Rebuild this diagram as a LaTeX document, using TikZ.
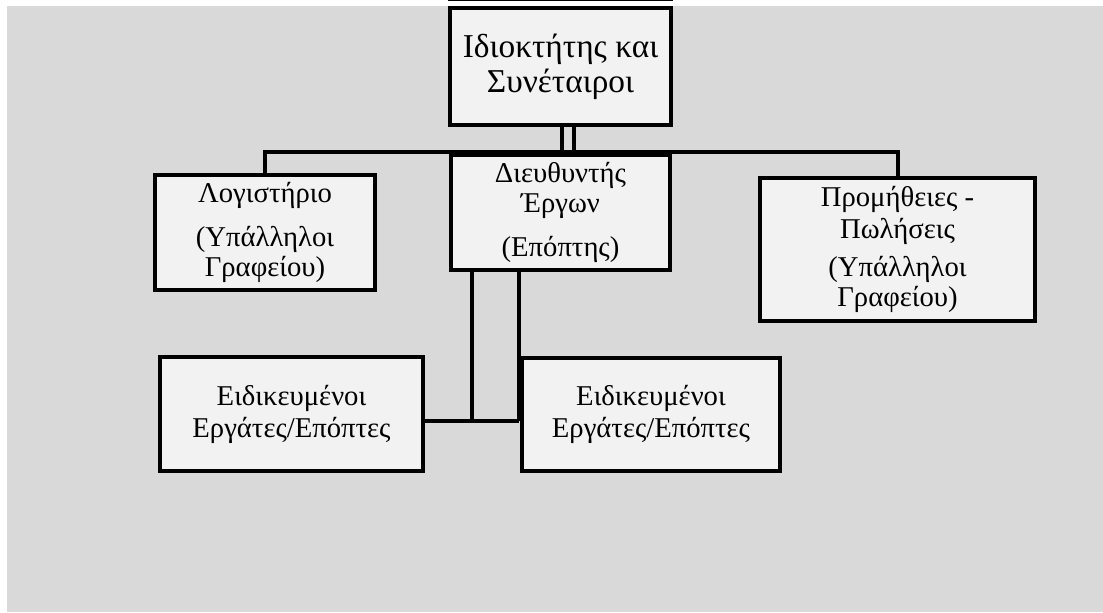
\documentclass[tikz,border=0pt]{standalone}
\usepackage{fontspec}
\setmainfont{Liberation Serif}
\usetikzlibrary{positioning}

\definecolor{bggray}{HTML}{D9D9D9}
\definecolor{boxgray}{HTML}{F2F2F2}

\begin{document}
\begin{tikzpicture}[x={(0.75pt,0pt)}, y={(0pt,-0.75pt)}, % pixel grid, y downwards
		orgbox/.style={draw=black, fill=boxgray, line width=3pt, align=center, inner sep=0pt,
			font=\fontsize{21.5}{22.5}\selectfont},
		link/.style={line width=3pt}]
		
		% Page and background
		\useasboundingbox (0,0) rectangle (1103,612);
		\fill[bggray] (7,6) rectangle (1103,612);
		
		% Top of the chart
		\node[orgbox, minimum width=165.75pt, minimum height=87.75pt,
			font=\fontsize{25}{26.25}\selectfont] (owner) at (560.5,66.5) {Ιδιοκτήτης και\\Συνέταιροι};
		\draw[line width=1.2pt] ([yshift=4pt]owner.north west) -- ([yshift=4pt]owner.north east);
		
		% Second level
		\node[orgbox, minimum width=165pt, minimum height=86.25pt] (acc) at (265,232.5)
			{Λογιστήριο\\[10.5pt](Υπάλληλοι\\Γραφείου)};
		\node[orgbox, minimum width=164.25pt, minimum height=86.25pt] (dir) at (560.5,212.5)
			{Διευθυντής\\Έργων\\[10.5pt](Επόπτης)};
		\node[orgbox, minimum width=206.25pt, minimum height=107.25pt] (supp) at (897.5,249.5)
			{Προμήθειες -\\[2pt]Πωλήσεις\\[6pt](Υπάλληλοι\\Γραφείου)};
		
		% Third level
		\node[orgbox, minimum width=197.25pt, minimum height=85.5pt] (wk1) at (291.5,414)
			{Ειδικευμένοι\\[1.5pt]Εργάτες/Επόπτες};
		\node[orgbox, minimum width=193.5pt, minimum height=84.75pt] (wk2) at (651,414.5)
			{Ειδικευμένοι\\[1.5pt]Εργάτες/Επόπτες};
		
		% Connectors
		\coordinate (bus) at (0,152);
		\coordinate (jl) at (472,421);
		\coordinate (jr) at (519,421);
		\draw[link] ([xshift=1.1pt]owner.south) -- ([xshift=1.1pt]owner.south |- bus);
		\draw[link] ([xshift=10.1pt]owner.south) -- ([xshift=10.1pt]owner.south |- bus);
		\draw[link] (acc.north) -- (acc.north |- bus) -- (supp.north |- bus) -- (supp.north);
		\draw[link] (dir.south -| jl) -- (jl);
		\draw[link] (dir.south -| jr) -- (jr);
		\draw[link] (wk1.east |- jr) -- (jr);
	\end{tikzpicture}
\end{document}
